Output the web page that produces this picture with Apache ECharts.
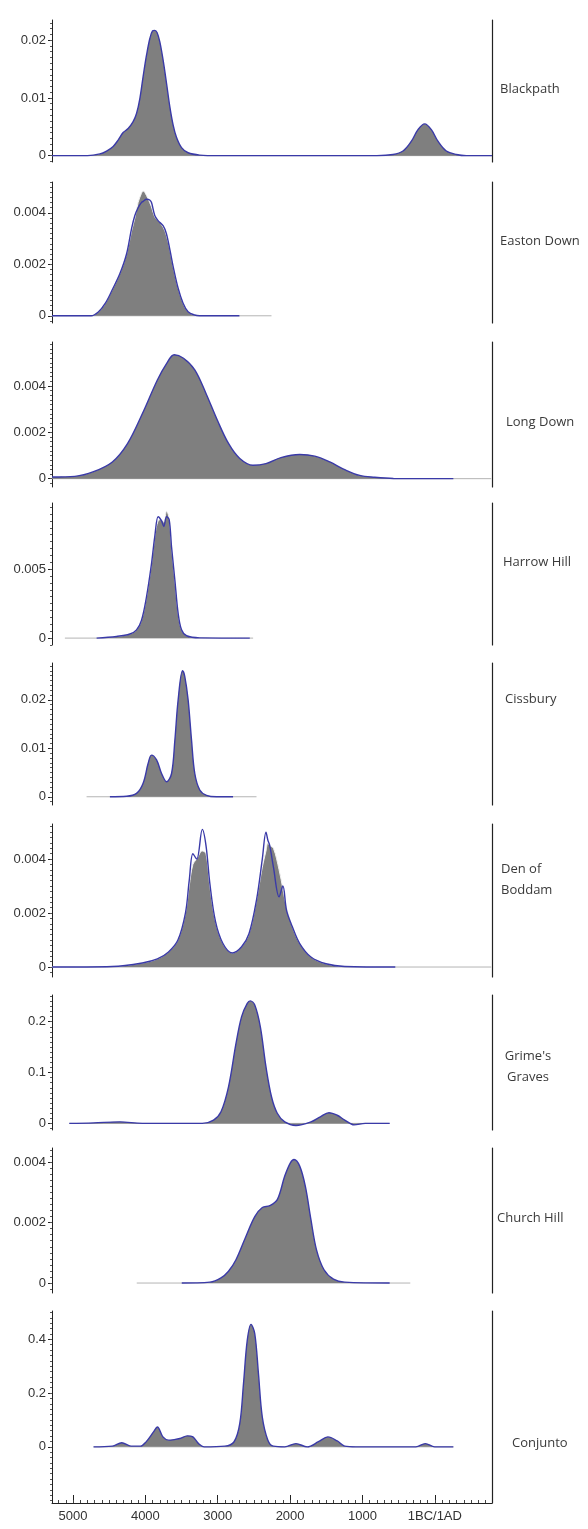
<!DOCTYPE html>
<html>
<head>
<meta charset="utf-8">
<script src="https://cdn.jsdelivr.net/npm/echarts@6/dist/echarts.min.js"></script>
<style>
  html, body { margin: 0; padding: 0; background: #fff; }
  #chart { width: 588px; height: 1529px; }
</style>
</head>
<body>
<div id="chart"></div>
<script>
// x axis: calendar years BC (negative = AD), shared by every panel
const xTickValues = [5000, 4000, 3000, 2000, 1000, 0];
const xTickLabels = ["5000", "4000", "3000", "2000", "1000", "1BC/1AD"];

// Blackpath
const blackpathYears = [5290, 4800, 4628, 4536, 4445, 4376, 4307, 4238, 4169, 4122, 4076, 4031, 3984, 3938, 3901, 3869, 3837, 3800, 3754, 3707, 3662, 3616, 3570, 3500, 3409, 3248, 3000, 800, 578, 440, 324, 233, 140, 48, -43, -159, -297, -435, -790];
const blackpathDensity = [0, 0, 0.0003, 0.0008, 0.0016, 0.0027, 0.004, 0.0047, 0.0059, 0.0073, 0.0099, 0.0137, 0.0174, 0.0203, 0.0216, 0.0217, 0.0213, 0.0197, 0.0165, 0.0125, 0.0085, 0.0053, 0.0032, 0.0014, 0.0005, 0.0001, 0, 0, 0.0002, 0.0008, 0.0025, 0.0045, 0.0055, 0.0045, 0.0025, 0.0008, 0.0002, 0, 0];
const blackpathRange = [5290, -790];
const blackpathTicks = [0, 0.01, 0.02];

// Easton Down
const eastonYears = [5290, 4750, 4650, 4550, 4450, 4350, 4260, 4190, 4145, 4100, 4055, 4030, 3985, 3940, 3915, 3870, 3825, 3755, 3710, 3660, 3615, 3550, 3480, 3410, 3320, 3250, 2700];
const eastonFill = [0, 0, 0.00015, 0.0005, 0.00105, 0.00165, 0.0024, 0.0033, 0.0038, 0.0044, 0.00475, 0.00485, 0.00468, 0.0044, 0.00423, 0.00384, 0.0037, 0.00345, 0.00313, 0.00255, 0.0019, 0.0011, 0.0005, 0.00016, 0.00003, 0, 0];
const eastonLine = [0, 0, 0.00015, 0.0005, 0.00105, 0.00165, 0.0024, 0.0034, 0.0039, 0.0042, 0.0044, 0.00445, 0.00453, 0.0045, 0.0044, 0.0039, 0.0037, 0.0035, 0.0032, 0.00255, 0.0019, 0.0011, 0.0005, 0.00016, 0.00003, 0, 0];
const eastonRange = [5290, 2257];
const eastonTicks = [0, 0.002, 0.004];

// Long Down
const longDownYears = [5290, 4974, 4716, 4456, 4249, 4042, 3834, 3705, 3601, 3473, 3317, 3162, 3006, 2851, 2695, 2514, 2333, 2126, 1867, 1659, 1452, 1245, 1038, 831, 572, -256];
const longDownDensity = [0.00007, 0.0001, 0.0003, 0.00072, 0.0015, 0.0028, 0.00426, 0.00498, 0.00535, 0.0052, 0.0047, 0.00368, 0.00253, 0.00152, 0.00087, 0.00058, 0.00065, 0.00091, 0.00104, 0.00097, 0.00072, 0.00039, 0.00014, 0.00006, 0.00001, 0];
const longDownRange = [5290, -780];
const longDownTicks = [0, 0.002, 0.004];

// Harrow Hill
const harrowYears = [4674, 4398, 4214, 4122, 4053, 3984, 3915, 3869, 3823, 3776, 3745, 3707, 3671, 3638, 3592, 3547, 3500, 3431, 3248, 2557];
const harrowFill = [0, 0.00012, 0.0003, 0.0006, 0.0013, 0.003, 0.0054, 0.0074, 0.0085, 0.0086, 0.0084, 0.0092, 0.0087, 0.0066, 0.0042, 0.0018, 0.0006, 0.00017, 0.00002, 0];
const harrowLine = [0, 0.00012, 0.0003, 0.0006, 0.0013, 0.003, 0.0054, 0.0074, 0.0088, 0.0085, 0.0081, 0.0088, 0.0086, 0.0066, 0.0042, 0.0018, 0.0006, 0.00017, 0.00002, 0];
const harrowRange = [5112, 2511];
const harrowTicks = [0, 0.005];

// Cissbury
const cissburyYears = [4490, 4260, 4122, 4031, 3961, 3915, 3845, 3776, 3707, 3638, 3592, 3547, 3486, 3455, 3409, 3362, 3317, 3248, 3155, 3017, 2788];
const cissburyDensity = [0, 0.0001, 0.0007, 0.0028, 0.0069, 0.0086, 0.0076, 0.0048, 0.0031, 0.0048, 0.0117, 0.02, 0.026, 0.0248, 0.02, 0.0117, 0.0048, 0.0014, 0.0003, 0, 0];
const cissburyRange = [4812, 2464];
const cissburyTicks = [0, 0.01, 0.02];

// Den of Boddam
const boddamYears = [5290, 4456, 4042, 3834, 3680, 3550, 3446, 3394, 3343, 3290, 3213, 3162, 3109, 3032, 2928, 2799, 2670, 2567, 2463, 2384, 2333, 2307, 2281, 2230, 2152, 2100, 2049, 1970, 1867, 1712, 1505, 1245, 546];
const boddamFill = [0, 0.00002, 0.00015, 0.0003, 0.00056, 0.001, 0.002, 0.003, 0.0038, 0.004, 0.0043, 0.0042, 0.003, 0.0017, 0.00087, 0.00052, 0.00075, 0.00124, 0.0025, 0.0037, 0.0043, 0.0046, 0.0045, 0.0044, 0.0036, 0.0029, 0.0022, 0.0015, 0.00087, 0.00037, 0.00012, 0.00002, 0];
const boddamLine = [0, 0.00002, 0.00015, 0.0003, 0.00056, 0.001, 0.002, 0.0032, 0.0042, 0.004, 0.0051, 0.0045, 0.0031, 0.0017, 0.00087, 0.00052, 0.00075, 0.00124, 0.0025, 0.004, 0.005, 0.0047, 0.0045, 0.0037, 0.0026, 0.003, 0.0021, 0.0015, 0.00087, 0.00037, 0.00012, 0.00002, 0];
const boddamRange = [5290, -780];
const boddamTicks = [0, 0.002, 0.004];

// Grime's Graves
const grimesYears = [5051, 4716, 4352, 4042, 3213, 3058, 2955, 2851, 2748, 2670, 2592, 2550, 2488, 2411, 2333, 2256, 2177, 2074, 1919, 1712, 1582, 1463, 1349, 1245, 1116, 961, 624];
const grimesDensity = [0, 0.001, 0.003, 0, 0, 0.0066, 0.023, 0.072, 0.157, 0.21, 0.236, 0.241, 0.233, 0.19, 0.111, 0.052, 0.02, 0.003, -0.004, 0.003, 0.013, 0.021, 0.016, 0.0066, -0.003, 0, 0];
const grimesRange = [5051, 624];
const grimesTicks = [0, 0.1, 0.2];

// Church Hill
const churchYears = [3497, 3109, 2955, 2851, 2748, 2618, 2488, 2384, 2281, 2177, 2074, 1996, 1945, 1867, 1789, 1712, 1635, 1531, 1401, 1245, 624];
const churchDensity = [0, 0.00003, 0.00017, 0.00039, 0.00077, 0.0015, 0.0022, 0.0025, 0.00256, 0.00276, 0.00354, 0.00398, 0.00409, 0.00387, 0.0032, 0.0021, 0.0011, 0.00044, 0.00013, 0.00003, 0];
const churchRange = [4119, 339];
const churchTicks = [0, 0.002, 0.004];

// Conjunto
const conjuntoYears = [4716, 4456, 4326, 4198, 4068, 3990, 3887, 3834, 3757, 3680, 3601, 3524, 3420, 3343, 3265, 3188, 2902, 2774, 2695, 2644, 2592, 2540, 2488, 2437, 2384, 2307, 2230, 2074, 1919, 1763, 1608, 1478, 1349, 1245, 1090, 262, 132, 2, -256];
const conjuntoDensity = [0, 0.0025, 0.015, 0.0025, 0.0025, 0.0186, 0.0557, 0.074, 0.037, 0.025, 0.027, 0.031, 0.041, 0.037, 0.012, 0, 0.0025, 0.019, 0.087, 0.235, 0.396, 0.456, 0.421, 0.272, 0.111, 0.025, 0.0025, 0, 0.012, 0, 0.019, 0.037, 0.022, 0.0025, 0, 0, 0.012, 0, 0];
const conjuntoRange = [4716, -256];
const conjuntoTicks = [0, 0.2, 0.4];

const X_MIN = -790;
const X_MAX = 5290;
const BLUE = "#3a3aa8";
const GREY = "#7f7f7f";
const INK = "#222";

// one entry per strip, top to bottom
const panels = [
  { name: "Blackpath", years: blackpathYears, fill: blackpathDensity, line: null, range: blackpathRange, ticks: blackpathTicks, minor: 0.001, yMin: -0.0011, yMax: 0.0235, top: 20, height: 142, lx: 500, ly: 89 },
  { name: "Easton Down", years: eastonYears, fill: eastonFill, line: eastonLine, range: eastonRange, ticks: eastonTicks, minor: 0.0002, yMin: -0.00028, yMax: 0.0052, top: 182, height: 141, lx: 500, ly: 241 },
  { name: "Long Down", years: longDownYears, fill: longDownDensity, line: null, range: longDownRange, ticks: longDownTicks, minor: 0.0002, yMin: -0.00036, yMax: 0.0059, top: 342, height: 145, lx: 506, ly: 422 },
  { name: "Harrow Hill", years: harrowYears, fill: harrowFill, line: harrowLine, range: harrowRange, ticks: harrowTicks, minor: 0.0005, yMin: -0.0005, yMax: 0.0098, top: 503, height: 142, lx: 503, ly: 562 },
  { name: "Cissbury", years: cissburyYears, fill: cissburyDensity, line: null, range: cissburyRange, ticks: cissburyTicks, minor: 0.001, yMin: -0.0017, yMax: 0.0276, top: 663, height: 142, lx: 505, ly: 699 },
  { name: "Den of\nBoddam", years: boddamYears, fill: boddamFill, line: boddamLine, range: boddamRange, ticks: boddamTicks, minor: 0.0002, yMin: -0.00037, yMax: 0.0053, top: 824, height: 153, lx: 501, ly: 880 },
  { name: "Grime's\nGraves", years: grimesYears, fill: grimesDensity, line: null, range: grimesRange, ticks: grimesTicks, minor: 0.01, yMin: -0.013, yMax: 0.2526, top: 995, height: 135, lx: 528, ly: 1067, center: true },
  { name: "Church Hill", years: churchYears, fill: churchDensity, line: null, range: churchRange, ticks: churchTicks, minor: 0.0002, yMin: -0.00033, yMax: 0.00447, top: 1148, height: 145, lx: 497, ly: 1218 },
  { name: "Conjunto", years: conjuntoYears, fill: conjuntoDensity, line: null, range: conjuntoRange, ticks: conjuntoTicks, minor: 0.02, yMin: -0.209, yMax: 0.5056, top: 1311, height: 192, lx: 512, ly: 1443 }
];

function stepsBetween(lo, hi, step) {
  const out = [];
  for (let k = Math.ceil(lo / step - 1e-9); k * step <= hi + 1e-12; k++) {
    out.push(+(k * step).toFixed(6));
  }
  return out;
}

const chart = echarts.init(document.getElementById("chart"));
const grids = [];
const xAxes = [];
const yAxes = [];
const series = [];
const graphics = [];

panels.forEach((p, i) => {
  const last = i === panels.length - 1;
  grids.push({ left: 52, right: 96, top: p.top, height: p.height, outerBoundsMode: "none" });

  // x axis (only the bottom strip shows it)
  const xi = xAxes.length;
  xAxes.push({
    type: "value", gridIndex: i, min: X_MIN, max: X_MAX, inverse: true, show: last, position: "bottom",
    axisLine: { show: true, onZero: false, lineStyle: { color: INK, width: 1 } },
    axisTick: { show: true, inside: true, length: 8, customValues: xTickValues, lineStyle: { color: INK } },
    axisLabel: {
      customValues: xTickValues, margin: 7, color: "#333", fontSize: 13, fontFamily: "Liberation Sans",
      formatter: (v) => xTickLabels[xTickValues.indexOf(v)]
    },
    splitLine: { show: false }
  });
  if (last) {
    // minor ticks every 100 years
    xAxes.push({
      type: "value", gridIndex: i, min: X_MIN, max: X_MAX, inverse: true, position: "bottom",
      axisLine: { show: false, onZero: false },
      axisTick: { show: true, inside: true, length: 3, customValues: stepsBetween(X_MIN, X_MAX, 100), lineStyle: { color: "#444" } },
      axisLabel: { show: false },
      splitLine: { show: false }
    });
  }

  // left value axis with labels
  const yi = yAxes.length;
  yAxes.push({
    type: "value", gridIndex: i, min: p.yMin, max: p.yMax, position: "left",
    axisLine: { show: true, onZero: false, lineStyle: { color: INK, width: 1 } },
    axisTick: { show: true, length: 4, customValues: p.ticks, lineStyle: { color: INK } },
    axisLabel: { customValues: p.ticks, margin: 6, color: "#333", fontSize: 13, fontFamily: "Liberation Sans" },
    splitLine: { show: false }
  });
  // minor ticks
  yAxes.push({
    type: "value", gridIndex: i, min: p.yMin, max: p.yMax, position: "left",
    axisLine: { show: false, onZero: false },
    axisTick: { show: true, length: 2, customValues: stepsBetween(p.yMin, p.yMax, p.minor), lineStyle: { color: "#555" } },
    axisLabel: { show: false },
    splitLine: { show: false }
  });
  // right-hand divider
  yAxes.push({
    type: "value", gridIndex: i, min: p.yMin, max: p.yMax, position: "right",
    axisLine: { show: true, onZero: false, lineStyle: { color: INK, width: 1.2 } },
    axisTick: { show: false },
    axisLabel: { show: false },
    splitLine: { show: false }
  });

  // grey baseline of the plotted range
  series.push({
    type: "line", xAxisIndex: xi, yAxisIndex: yi, silent: true, symbol: "none", z: 1,
    data: [[p.range[0], 0], [p.range[1], 0]],
    lineStyle: { color: "#b4b4b4", width: 1 }
  });
  // filled density
  series.push({
    type: "line", xAxisIndex: xi, yAxisIndex: yi, silent: true, symbol: "none", smooth: 0.35, z: 2,
    data: p.years.map((yr, k) => [yr, p.fill[k]]),
    areaStyle: { color: GREY, opacity: 1 },
    lineStyle: p.line ? { color: "#f2f2f2", width: 1 } : { color: BLUE, width: 1.4 }
  });
  if (p.line) {
    series.push({
      type: "line", xAxisIndex: xi, yAxisIndex: yi, silent: true, symbol: "none", smooth: 0.35, z: 3,
      data: p.years.map((yr, k) => [yr, p.line[k]]),
      lineStyle: { color: BLUE, width: 1.4 }
    });
  }

  graphics.push({
    type: "text", x: p.lx, y: p.ly, silent: true,
    style: {
      text: p.name, fill: "#3a3a3a", font: '13px "Open Sans"', lineHeight: 21,
      align: p.center ? "center" : "left", verticalAlign: "middle"
    }
  });
});

chart.setOption({
  animation: false,
  backgroundColor: "#fff",
  grid: grids,
  xAxis: xAxes,
  yAxis: yAxes,
  series: series,
  graphic: graphics
});
</script>
</body>
</html>
